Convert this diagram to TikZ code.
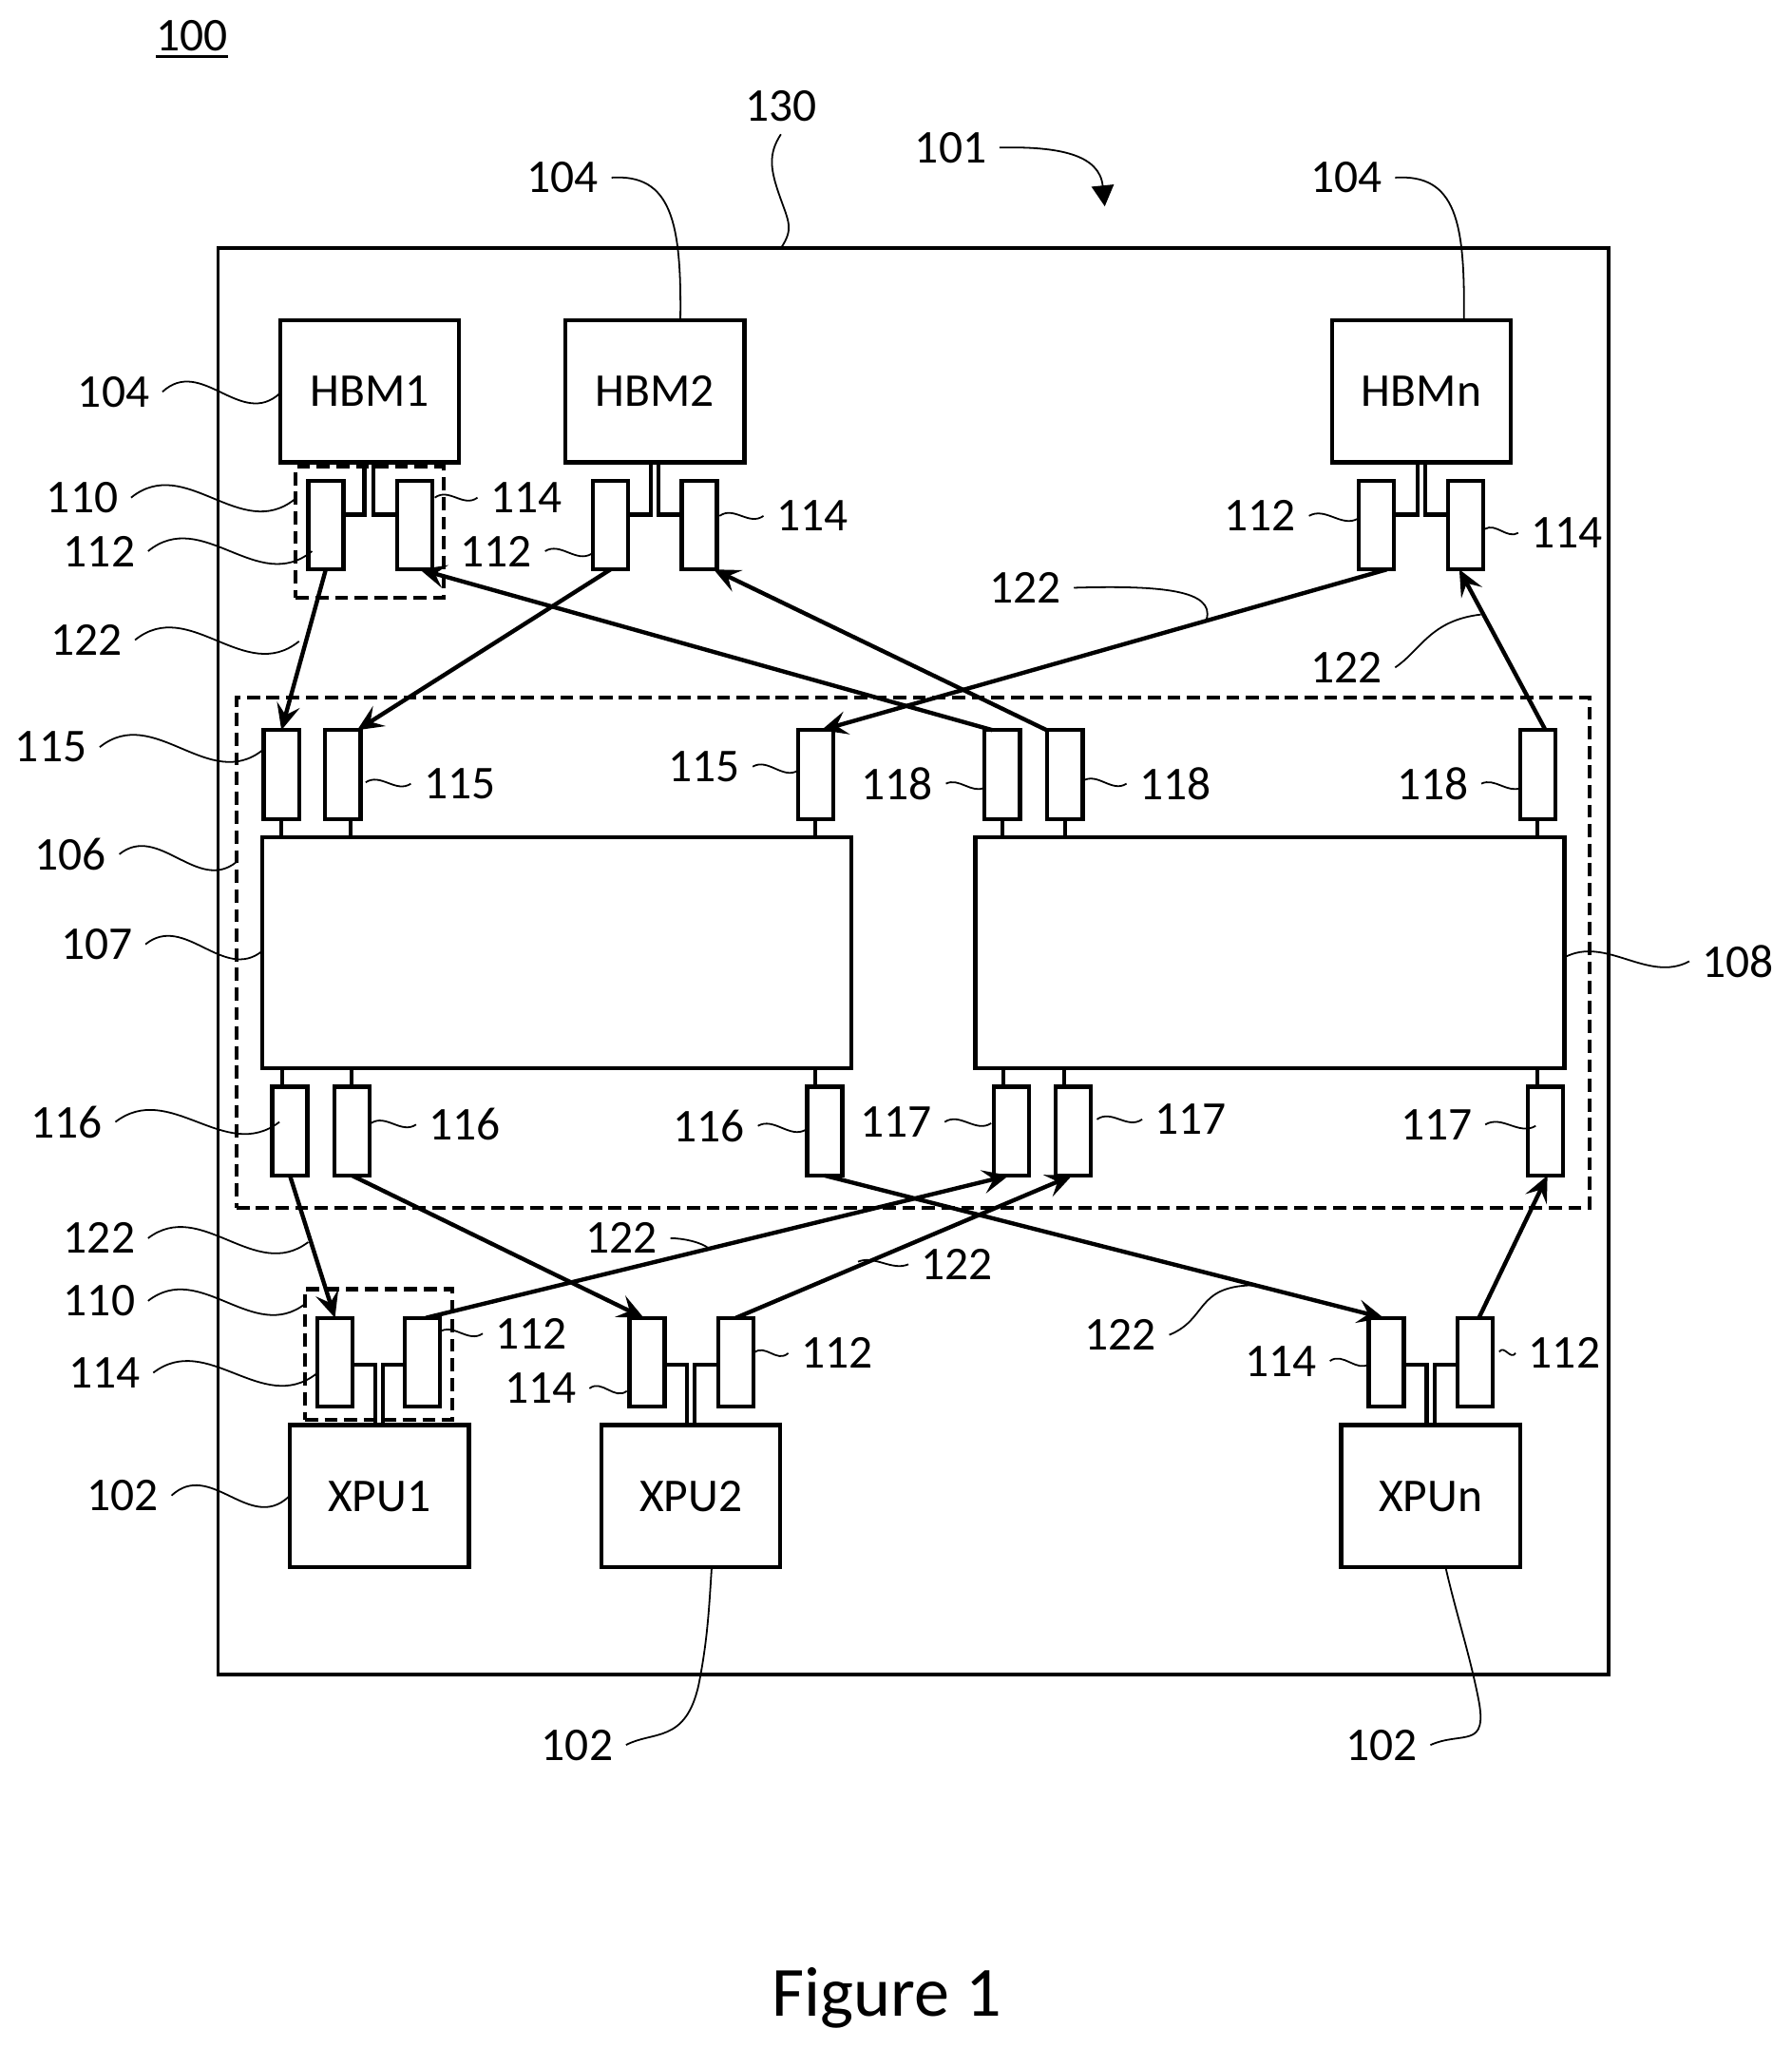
\documentclass[tikz,border=0pt]{standalone}
\usepackage{fontspec}
\setmainfont{Carlito}
\usetikzlibrary{arrows.meta,calc}
\newcommand{\ulnum}[1]{\setbox0\hbox{#1}\rlap{\raisebox{-6pt}{\rule{\wd0}{2.2pt}}}\box0}
\tikzset{
  box/.style={draw,line width=3.2pt,fill=white,inner sep=0pt,outer sep=0pt,rectangle,font=\fontsize{36}{36}\selectfont},
  hbox/.style={box,minimum width=137pt,minimum height=109pt},
  port/.style={box,minimum width=27pt,minimum height=68pt},
  bigbox/.style={box,minimum width=451pt,minimum height=177pt},
  lab/.style={inner sep=0pt,outer sep=10pt,font=\fontsize{36}{36}\selectfont},
  lead/.style={line width=1.3pt},
  stub/.style={line width=3pt},
  dashbox/.style={draw,line width=3pt,dash pattern=on 10pt off 5pt},
  conn/.style={line width=3.2pt,-{Stealth[length=20pt,width=18pt,inset=8pt]}},
  squig/.style={to path={.. controls ($(\tikztostart)!.333!(\tikztotarget)+(0,-#1)$) and ($(\tikztostart)!.667!(\tikztotarget)+(0,#1)$) .. (\tikztotarget)}}
}
\begin{document}
\begin{tikzpicture}[x=1pt,y=-1pt]
\useasboundingbox (0,0) rectangle (1372,1568);
\fill[white] (0,0) rectangle (1372,1568);
% substrate and dashed groups
\node[draw,line width=2.8pt,inner sep=0pt,outer sep=0pt,minimum width=1065pt,minimum height=1092pt] (sub) at (699.5,736) {};
\node[dashbox,inner sep=0pt,outer sep=0pt,minimum width=1036pt,minimum height=391pt] (grp) at (699,729.5) {};
% memory and processors
\node[hbox] (hbm1) at (283,299.5) {HBM1};
\node[hbox] (hbm2) at (501.5,299.5) {HBM2};
\node[hbox] (hbmn) at (1088.5,299.5) {HBMn};
\node[hbox] (xpu1) at (290.5,1145.5) {XPU1};
\node[hbox] (xpu2) at (529,1145.5) {XPU2};
\node[hbox] (xpun) at (1095.5,1145.5) {XPUn};
% dies
\node[bigbox] (d1) at (426.5,729.5) {};
\node[bigbox] (d2) at (972.5,729.5) {};
% ports
\node[port] (a1) at (249.5,402) {};
\node[port] (a2) at (317.5,402) {};
\node[port] (b1) at (467.5,402) {};
\node[port] (b2) at (535.5,402) {};
\node[port] (c1) at (1054,402) {};
\node[port] (c2) at (1122.5,402) {};
\node[port] (t1) at (215.5,593) {};
\node[port] (t2) at (262.5,593) {};
\node[port] (t3) at (624.5,593) {};
\node[port] (t4) at (767.5,593) {};
\node[port] (t5) at (815.5,593) {};
\node[port] (t6) at (1177.5,593) {};
\node[port] (u1) at (222,866) {};
\node[port] (u2) at (269.5,866) {};
\node[port] (u3) at (631.5,866) {};
\node[port] (u4) at (774.5,866) {};
\node[port] (u5) at (822,866) {};
\node[port] (u6) at (1183.5,866) {};
\node[port] (x1) at (256.5,1043) {};
\node[port] (x2) at (323.5,1043) {};
\node[port] (y1) at (495.5,1043) {};
\node[port] (y2) at (563.5,1043) {};
\node[port] (z1) at (1061.5,1043) {};
\node[port] (z2) at (1129.5,1043) {};
% dashed 110
\node[dashbox,inner sep=0pt,outer sep=0pt,minimum width=113pt,minimum height=100pt] (g1) at (283,407.5) {};
\node[dashbox,inner sep=0pt,outer sep=0pt,minimum width=113pt,minimum height=100pt] (g2) at (290,1037) {};
% stubs top
\draw[stub] ([yshift=8pt]a1.east) -| ([xshift=-4pt]hbm1.south);
\draw[stub] ([yshift=8pt]a2.west) -| ([xshift=3pt]hbm1.south);
\draw[stub] ([yshift=8pt]b1.east) -| ([xshift=-3pt]hbm2.south);
\draw[stub] ([yshift=8pt]b2.west) -| ([xshift=3pt]hbm2.south);
\draw[stub] ([yshift=8pt]c1.east) -| ([xshift=-3pt]hbmn.south);
\draw[stub] ([yshift=8pt]c2.west) -| ([xshift=3pt]hbmn.south);
% stubs bottom
\draw[stub] ([yshift=-2pt]x1.east) -| ([xshift=-3pt]xpu1.north);
\draw[stub] ([yshift=-2pt]x2.west) -| ([xshift=3pt]xpu1.north);
\draw[stub] ([yshift=-2pt]y1.east) -| ([xshift=-3pt]xpu2.north);
\draw[stub] ([yshift=-2pt]y2.west) -| ([xshift=3pt]xpu2.north);
\draw[stub] ([yshift=-2pt]z1.east) -| ([xshift=-3pt]xpun.north);
\draw[stub] ([yshift=-2pt]z2.west) -| ([xshift=3pt]xpun.north);
% die stubs
\draw[stub] (t1.south) -- (t1.south |- d1.north);
\draw[stub] ([xshift=6pt]t2.south) -- ([xshift=6pt]t2.south |- d1.north);
\draw[stub] (t3.south) -- (t3.south |- d1.north);
\draw[stub] (t4.south) -- (t4.south |- d2.north);
\draw[stub] (t5.south) -- (t5.south |- d2.north);
\draw[stub] (t6.south) -- (t6.south |- d2.north);
\draw[stub] ([xshift=-6pt]u1.north) -- ([xshift=-6pt]u1.north |- d1.south);
\draw[stub] (u2.north) -- (u2.north |- d1.south);
\draw[stub] ([xshift=-7pt]u3.north) -- ([xshift=-7pt]u3.north |- d1.south);
\draw[stub] ([xshift=-6pt]u4.north) -- ([xshift=-6pt]u4.north |- d2.south);
\draw[stub] ([xshift=-7pt]u5.north) -- ([xshift=-7pt]u5.north |- d2.south);
\draw[stub] ([xshift=-6pt]u6.north) -- ([xshift=-6pt]u6.north |- d2.south);
% connectors
\draw[conn] (a1.south) -- (t1.north);
\draw[conn] (b1.south) -- ([xshift=11pt]t2.north);
\draw[conn] ([xshift=8pt]c1.south) -- ([xshift=4.5pt]t3.north);
\draw[conn] ([xshift=-7.5pt]t4.north) -- ([xshift=4pt]a2.south);
\draw[conn] ([xshift=-14pt]t5.north) -- ([xshift=11pt]b2.south);
\draw[conn] ([xshift=6pt]t6.north) -- ([xshift=-5pt]c2.south);
\draw[conn] (u1.south) -- (x1.north);
\draw[conn] (u2.south) -- ([xshift=-2.5pt]y1.north);
\draw[conn] (u3.south) -- ([xshift=-2pt]z1.north);
\draw[conn] ([xshift=2.5pt]x2.north) -- ([xshift=-2pt]u4.south);
\draw[conn] (y2.north) -- ([xshift=-1pt]u5.south);
\draw[conn] ([xshift=3pt]z2.north) -- ([xshift=1.5pt]u6.south);
% labels
\node[lab] (L100) at (147,30) {\ulnum{100}};
\node[lab] (L130) at (598,81) {130};
\node[lab] (L101) at (728,113) {101};
\node[lab] (L104b) at (431,136) {104};
\node[lab] (L104c) at (1031,136) {104};
\node[lab] (L104a) at (87,300) {104};
\node[lab] (L110a) at (63,381) {110};
\node[lab] (L114a) at (403,381) {114};
\node[lab] (L112a) at (76,422) {112};
\node[lab] (L112b) at (380,422) {112};
\node[lab] (L114b) at (622,395) {114};
\node[lab] (L112c) at (965,395) {112};
\node[lab] (L114c) at (1200,408) {114};
\node[lab] (L122a) at (785,450) {122};
\node[lab] (L122b) at (66,490) {122};
\node[lab] (L122c) at (1031,511) {122};
\node[lab] (L115a) at (39,572) {115};
\node[lab] (L115b) at (352,600) {115};
\node[lab] (L115c) at (539,587) {115};
\node[lab] (L118a) at (687,600) {118};
\node[lab] (L118b) at (900,600) {118};
\node[lab] (L118c) at (1097,600) {118};
\node[lab] (L106) at (54,654) {106};
\node[lab] (L107) at (74,723) {107};
\node[lab] (L108) at (1331,736) {108};
\node[lab] (L116a) at (51,859) {116};
\node[lab] (L116b) at (356,861) {116};
\node[lab] (L116c) at (543,862) {116};
\node[lab] (L117a) at (686,859) {117};
\node[lab] (L117b) at (912,857) {117};
\node[lab] (L117c) at (1100,861) {117};
\node[lab] (L122d) at (76,948) {122};
\node[lab] (L122e) at (476,948) {122};
\node[lab] (L122f) at (733,968) {122};
\node[lab] (L110b) at (76,996) {110};
\node[lab] (L112d) at (407,1021) {112};
\node[lab] (L112e) at (641,1036) {112};
\node[lab] (L112f) at (1198,1036) {112};
\node[lab] (L114d) at (80,1051) {114};
\node[lab] (L114e) at (414,1063) {114};
\node[lab] (L114f) at (981,1042) {114};
\node[lab] (L102a) at (94,1145) {102};
\node[lab] (L122g) at (858,1022) {122};
\node[lab] (L102b) at (442,1336) {102};
\node[lab] (L102c) at (1058,1336) {102};
\node[inner sep=0pt,font=\fontsize{54}{54}\selectfont] (fig) at (679,1530) {Figure 1};
% leader ends
\coordinate (e104a) at (214.5,301);
\coordinate (e110a) at (226,382);
\coordinate (e112a) at (239,422);
\coordinate (e122b) at (229,491);
\coordinate (e115a) at (201.5,574);
\coordinate (e114a) at (333,381);
\coordinate (e112b) at (453,424);
\coordinate (e115b) at (280,599);
\coordinate (e116a) at (214,859);
\coordinate (e116b) at (284,860);
\coordinate (e116c) at (617,865);
\coordinate (e122d) at (236,951);
\coordinate (e122e) at (543,956);
\coordinate (e110b) at (234,998);
\coordinate (e112d) at (336,1020);
\coordinate (e114d) at (242,1052);
\coordinate (e114e) at (480,1065);
\coordinate (e112e) at (577,1036);
\coordinate (e102a) at (221,1146);
\coordinate (e106) at (181,660);
\coordinate (e107) at (201,728);
\coordinate (e108) at (1198,733);
\coordinate (e115c) at (611,590);
\coordinate (e118a) at (754,603);
\coordinate (e118b) at (829,598);
\coordinate (e118c) at (1165,603);
\coordinate (e117a) at (759,860);
\coordinate (e117b) at (840,857);
\coordinate (e117c) at (1176,862);
\coordinate (e114b) at (551,395);
\coordinate (e112c) at (1040,397);
\coordinate (e114c) at (1137,405);
\coordinate (e122f) at (657,966);
\coordinate (e112f) at (1148,1035);
\coordinate (e114f) at (1049,1044);
\coordinate (e122a) at (924,474);
\coordinate (e122c) at (1134,470.5);
\coordinate (e122g) at (959,984);
\coordinate (e130) at (598,190);
\coordinate (a101) at (846,158);
% leaders: big S
\draw[lead] (L104a.east) to[squig=28] (e104a);
\draw[lead] (L110a.east) to[squig=34] (e110a);
\draw[lead] (L112a.east) to[squig=34] (e112a);
\draw[lead] (L122b.east) to[squig=34] (e122b);
\draw[lead] (L115a.east) to[squig=34] (e115a);
\draw[lead] (L106.east) to[squig=26] (e106);
\draw[lead] (L107.east) to[squig=26] (e107);
\draw[lead] (L116a.east) to[squig=32] (e116a);
\draw[lead] (L122d.east) to[squig=32] (e122d);
\draw[lead] (L110b.east) to[squig=32] (e110b);
\draw[lead] (L114d.east) to[squig=32] (e114d);
\draw[lead] (L102a.east) to[squig=28] (e102a);
\draw[lead] (e108) to[squig=18] (L108.west);
% leaders: small S
\draw[lead] (e114a) to[squig=8] (L114a.west);
\draw[lead] (L112b.east) to[squig=8] (e112b);
\draw[lead] (e115b) to[squig=8] (L115b.west);
\draw[lead] (e114b) to[squig=8] (L114b.west);
\draw[lead] (L112c.east) to[squig=8] (e112c);
\draw[lead] (e114c) to[squig=6] (L114c.west);
\draw[lead] (L115c.east) to[squig=8] (e115c);
\draw[lead] (L118a.east) to[squig=6] (e118a);
\draw[lead] (e118b) to[squig=8] (L118b.west);
\draw[lead] (L118c.east) to[squig=6] (e118c);
\draw[lead] (e116b) to[squig=8] (L116b.west);
\draw[lead] (L116c.east) to[squig=8] (e116c);
\draw[lead] (L117a.east) to[squig=8] (e117a);
\draw[lead] (e117b) to[squig=8] (L117b.west);
\draw[lead] (L117c.east) to[squig=8] (e117c);
\draw[lead] (e112d) to[squig=8] (L112d.west);
\draw[lead] (e112e) to[squig=8] (L112e.west);
\draw[lead] (e112f) to[squig=6] (L112f.west);
\draw[lead] (L114e.east) to[squig=8] (e114e);
\draw[lead] (L114f.east) to[squig=8] (e114f);
\draw[lead] (e122f) to[squig=6] (L122f.west);
\draw[lead] (L122e.east) .. controls +(10,0) and +(-6,-5) .. (e122e);
% leaders: curved
\draw[lead] (L104b.east) .. controls (514,133) and (522,170) .. (521,245);
\draw[lead] (L104c.east) .. controls (1115,133) and (1122,170) .. (1121,245);
\draw[lead] (L130.south) .. controls (588,118) and (590,130) .. (597,150) .. controls (604,170) and (608,175) .. (e130);
\draw[lead] (L122a.east) .. controls (890,448) and (930,452) .. (e122a);
\draw[lead] (L122c.east) .. controls (1088,498) and (1095,475) .. (e122c);
\draw[lead] (L122g.east) .. controls (925,1010) and (915,985) .. (e122g);
\draw[lead] (L102b.east) .. controls (500,1325) and (525,1335) .. (535,1290) .. controls (542,1255) and (543,1230) .. (545,1200);
\draw[lead] (L102c.east) .. controls (1120,1325) and (1140,1340) .. (1132,1300) .. controls (1125,1265) and (1115,1235) .. (1107,1200);
\draw[line width=1.3pt,-{Stealth[length=16pt,width=17pt,inset=0pt]}] (L101.east) .. controls (810,112) and (842,118) .. (a101);
\end{tikzpicture}
\end{document}
